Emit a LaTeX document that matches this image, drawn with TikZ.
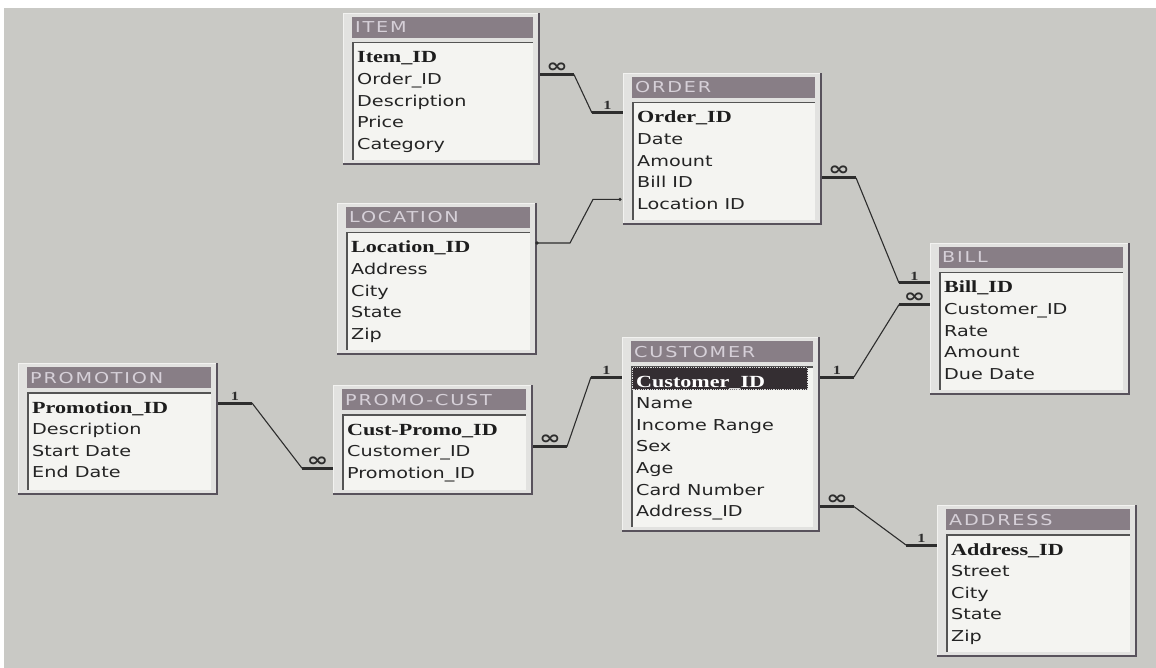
\documentclass[tikz,border=0pt]{standalone}
\usepackage{fontspec}
\usetikzlibrary{calc}

% Faces used in the relationship window
\newfontfamily\fieldfont[FakeStretch=1.28]{DejaVu Sans}
\newfontfamily\keyfont[FakeStretch=1.3]{Liberation Serif}
\newfontfamily\titlefont[FakeStretch=1.28,LetterSpace=12]{DejaVu Sans}
\newfontfamily\markfont[FakeStretch=1.35]{DejaVu Sans}

\definecolor{paper}{RGB}{201,201,197}
\definecolor{framefill}{RGB}{226,226,224}
\definecolor{framehi}{RGB}{242,242,240}
\definecolor{frameshade}{RGB}{88,82,92}
\definecolor{titlebar}{RGB}{136,126,134}
\definecolor{titleink}{RGB}{214,208,216}
\definecolor{bodyfill}{RGB}{244,244,241}
\definecolor{bodyedge}{RGB}{84,84,84}
\definecolor{ink}{RGB}{36,36,36}
\definecolor{linkink}{RGB}{45,45,45}
\definecolor{selfill}{RGB}{52,46,50}

\tikzset{
  tbl/.style={rectangle, draw=none, inner sep=0pt, outer sep=0pt},
  fieldtxt/.style={font=\fieldfont\fontsize{15}{18}\selectfont, text=ink, inner sep=0pt, anchor=base west},
  keytxt/.style={font=\keyfont\bfseries\fontsize{17}{20}\selectfont, text=ink!80!black, inner sep=0pt, anchor=base west},
  titletxt/.style={font=\titlefont\fontsize{15}{18}\selectfont, text=titleink, inner sep=0pt, anchor=base west},
  stub/.style={line width=3pt, draw=linkink},
  diag/.style={line width=1.1pt, draw=linkink},
  onemark/.style={node contents=1, font=\keyfont\bfseries\fontsize{12.5}{13}\selectfont, text=linkink, inner sep=1pt},
  manymark/.style={node contents=∞, font=\markfont\bfseries\fontsize{19}{19}\selectfont, text=linkink, inner sep=0pt},
}

% #1 name, #2 left, #3 top, #4 right, #5 bottom, #6 title, #7 key field,
% #8 other fields, #9 extra drawing between body and rows
\newcommand\ertable[9]{%
  \begin{scope}
    \node[tbl, anchor=north west, minimum width={(#4)-(#2)}, minimum height={(#5)-(#3)}] (#1) at (#2,#3) {};
    \fill[framefill] (#1.north west) rectangle (#1.south east);
    \draw[framehi, line width=1pt] ($(#1.south west)+(0.5,0)$) -- ($(#1.north west)+(0.5,0.5)$) -- ($(#1.north east)+(0,0.5)$);
    \draw[frameshade, line width=2pt] ($(#1.north east)+(-1,0)$) -- ($(#1.south east)+(-1,-1)$) -- ($(#1.south west)+(0,-1)$);
    \fill[titlebar] ($(#1.north west)+(9,4)$) rectangle ($(#1.north east)+(-7,25)$);
    \node[titletxt] (#1-title) at ($(#1.north west)+(12,20)$) {#6};
    \fill[bodyfill] ($(#1.north west)+(9,29)$) rectangle ($(#1.south east)+(-7,-5)$);
    \draw[bodyedge, line width=1.5pt] ($(#1.south west)+(9.75,-5)$) -- ($(#1.north west)+(9.75,29.75)$) -- ($(#1.north east)+(-7,29.75)$);
    #9
    \node[keytxt] (#1-1) at ($(#1.north west)+(14,50)$) {#7};
    \foreach \f [count=\i from 2] in {#8} {
      \node[fieldtxt] (#1-\i) at ($(#1.north west)+(14,{50+21.6*(\i-1)})$) {\f};
    }
  \end{scope}
}

% relationship line: #1 start row, #2 start table, #3 end row, #4 end table,
% #5 mark at start, #6 mark at end
\newcommand\relline[6]{%
  \coordinate (#1-out) at ($(#1.base -| #2.east)+(0,-10)$);
  \coordinate (#3-in) at ($(#3.base -| #4.west)+(0,-10)$);
  \draw[stub] (#1-out) -- ++(34,0) node[midway, above=0.5pt, #5] coordinate (#1-bend);
  \coordinate (#3-bend) at ($(#3-in)+(-31,0)$);
  \draw[diag] (#1-bend) -- (#3-bend);
  \draw[stub] (#3-bend) -- (#3-in) node[midway, above=0.5pt, #6];
}

\begin{document}
\begin{tikzpicture}[x=1pt, y=-1pt]
  \useasboundingbox (0,0) rectangle (1156,668);
  \fill[white] (0,0) rectangle (1156,668);
  \fill[paper] (4,8) rectangle (1156,668);

  \ertable{item}{343}{13}{540}{165}{ITEM}{Item\_ID}{Order\_ID,Description,Price,Category}{}
  \ertable{order}{623}{73}{822}{225}{ORDER}{Order\_ID}{Date,Amount,Bill ID,Location ID}{}
  \ertable{location}{337}{203}{537}{355}{LOCATION}{Location\_ID}{Address,City,State,Zip}{}
  \ertable{promotion}{18}{363}{218}{495}{PROMOTION}{Promotion\_ID}{Description,Start Date,End Date}{}
  \ertable{promocust}{333}{385}{533}{495}{PROMO-CUST}{Cust-Promo\_ID}{Customer\_ID,Promotion\_ID}{}
  \ertable{customer}{622}{337}{820}{532}{CUSTOMER}{Customer\_ID}{Name,Income Range,Sex,Age,Card Number,Address\_ID}{%
    \fill[selfill] ($(customer.north west)+(10,30)$) rectangle ($(customer.north east)+(-12,53)$);
    \draw[white!85!black, densely dotted, line width=0.8pt] ($(customer.north west)+(10.5,30.5)$) rectangle ($(customer.north east)+(-12.5,52.5)$);
    \tikzset{keytxt/.append style={text=white}}}
  \ertable{bill}{930}{243}{1130}{395}{BILL}{Bill\_ID}{Customer\_ID,Rate,Amount,Due Date}{}
  \ertable{address}{937}{505}{1137}{657}{ADDRESS}{Address\_ID}{Street,City,State,Zip}{}

  % one-to-many relationships
  \relline{item-2}{item}{order-1}{order}{manymark}{onemark}
  \relline{order-4}{order}{bill-1}{bill}{manymark}{onemark}
  \relline{customer-1}{customer}{bill-2}{bill}{onemark}{manymark}
  \relline{promotion-1}{promotion}{promocust-3}{promocust}{onemark}{manymark}
  \relline{promocust-2}{promocust}{customer-1}{customer}{manymark}{onemark}
  \relline{customer-7}{customer}{address-1}{address}{manymark}{onemark}

  % plain join between location and order
  \coordinate (location-1-out) at ($(location-1.base -| location.east)+(0,-10)$);
  \coordinate (order-5-in) at ($(order-5.base -| order.west)+(-3,-10)$);
  \draw[diag] (location-1-out) -- ++(33,0) -- ($(order-5-in)+(-27,0)$) -- (order-5-in);
  \fill[linkink] (location-1-out) circle (1.8);
  \fill[linkink] (order-5-in) circle (1.8);
\end{tikzpicture}
\end{document}
